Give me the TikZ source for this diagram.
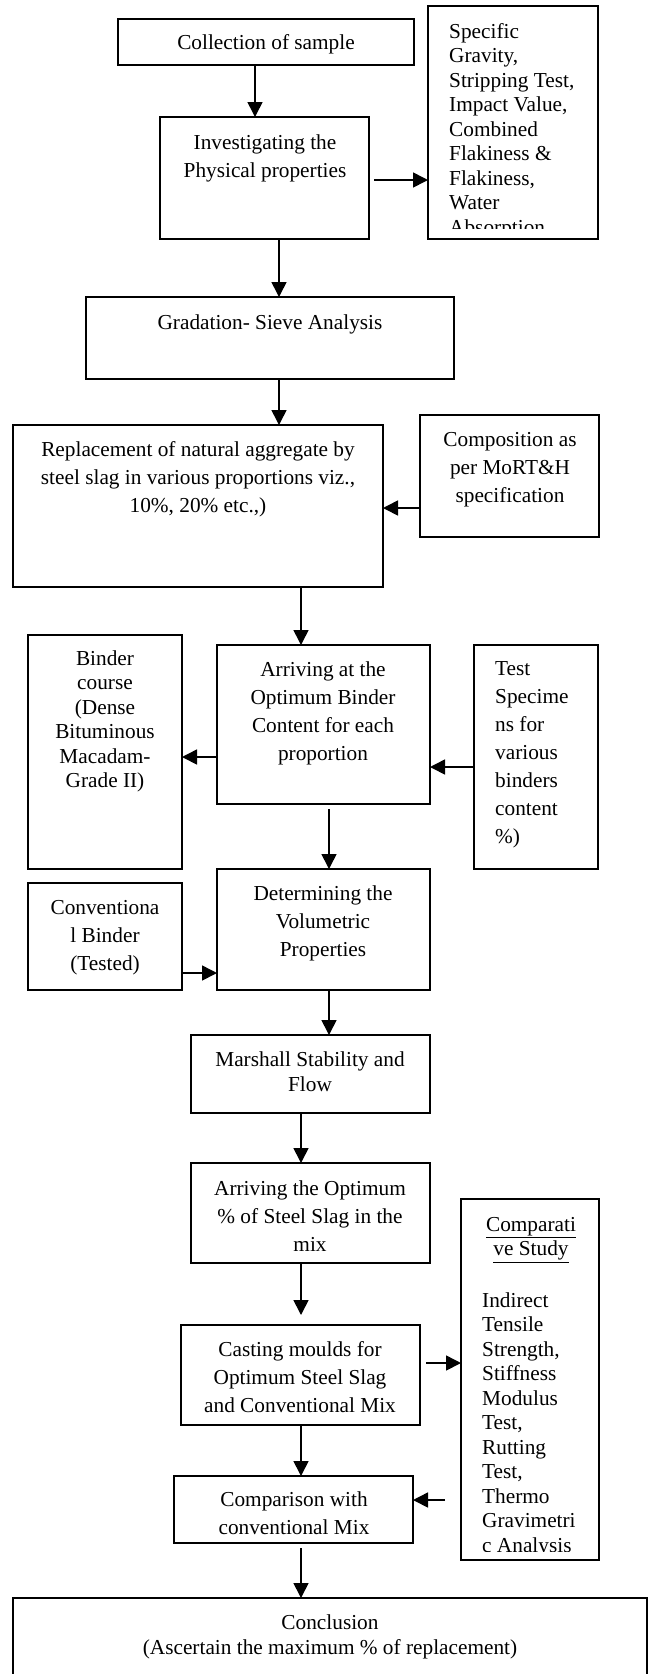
\documentclass[tikz,border=0pt]{standalone}
\usepackage{fontspec}
\setmainfont{Liberation Serif}
\usetikzlibrary{arrows.meta}
\newcommand\fsA{\fontsize{21.3}{28}\selectfont}
\newcommand\fsB{\fontsize{21.3}{24.5}\selectfont}
\newcommand\fsD{\fontsize{21.3}{25}\selectfont}
\begin{document}
\begin{tikzpicture}[x=1pt,y=-1pt,
  box/.style={draw, line width=1.6pt, rectangle, inner sep=0pt, outer sep=0pt, anchor=north west},
  tc/.style={inner sep=0pt, anchor=north, align=center},
  tl/.style={inner sep=0pt, anchor=north west, align=left},
  arr/.style={line width=1.6pt, -{Triangle[length=15pt,width=15pt]}}]
\useasboundingbox (0,0) rectangle (651,1674);
% boxes
\node[box, minimum width=296pt, minimum height=46pt]  (coll)  at (118,19) {};
\node[box, minimum width=170pt, minimum height=233pt] (spec)  at (428,6) {};
\node[box, minimum width=209pt, minimum height=122pt] (inv)   at (160,117) {};
\node[box, minimum width=368pt, minimum height=82pt]  (grad)  at (86,297) {};
\node[box, minimum width=370pt, minimum height=162pt] (repl)  at (13,425) {};
\node[box, minimum width=179pt, minimum height=122pt] (comp)  at (420,415) {};
\node[box, minimum width=154pt, minimum height=234pt] (bind)  at (28,635) {};
\node[box, minimum width=213pt, minimum height=159pt] (arrv)  at (217,645) {};
\node[box, minimum width=124pt, minimum height=224pt] (test)  at (474,645) {};
\node[box, minimum width=213pt, minimum height=121pt] (det)   at (217,869) {};
\node[box, minimum width=154pt, minimum height=107pt] (conv)  at (28,883) {};
\node[box, minimum width=239pt, minimum height=78pt]  (mars)  at (191,1035) {};
\node[box, minimum width=239pt, minimum height=100pt] (opt)   at (191,1163) {};
\node[box, minimum width=138pt, minimum height=361pt] (cstd)  at (461,1199) {};
\node[box, minimum width=239pt, minimum height=100pt] (cast)  at (181,1325) {};
\node[box, minimum width=239pt, minimum height=67pt]  (cmpr)  at (174,1476) {};
\node[box, draw=none, minimum width=634pt, minimum height=80pt] (concl) at (13,1598) {};
\draw[line width=1.6pt] (concl.south west) -- (concl.north west) -- (concl.north east) -- (concl.south east);
% texts
\node[tc, font=\fsA] (tcoll) at (266,29.4) {\strut Collection of sample};
\node[tc, font=\fsA] (tinv) at (265,129.4) {\strut Investigating the\\Physical properties};
\begin{scope}
\clip (428,6) rectangle (598,228);
\node[tl, font=\fsB] (tspec) at (449,20.85) {\strut Specific\\Gravity,\\Stripping Test,\\Impact Value,\\Combined\\Flakiness \&\\Flakiness,\\Water\\Absorption};
\end{scope}
\node[tc, font=\fsA] (tgrad) at (270,309.4) {\strut Gradation- Sieve Analysis};
\node[tc, font=\fsA] (trepl) at (198,436.4) {\strut Replacement of natural aggregate by\\steel slag in various proportions viz.,\\10\%, 20\% etc.,)};
\node[tc, font=\fsA] (tcomp) at (510,426.4) {\strut Composition as\\per MoRT\&H\\specification};
\node[tc, font=\fsB] (tbind) at (105,647.85) {\strut Binder\\course\\(Dense\\Bituminous\\Macadam-\\Grade II)};
\node[tc, font=\fsA] (tarrv) at (323,656.4) {\strut Arriving at the\\Optimum Binder\\Content for each\\proportion};
\node[tl, font=\fsA] (ttest) at (495,655.4) {\strut Test\\Specime\\ns for\\various\\binders\\content\\\%)};
\node[tc, font=\fsA] (tdet) at (323,880.4) {\strut Determining the\\Volumetric\\Properties};
\node[tc, font=\fsA] (tconv) at (105,894.4) {\strut Conventiona\\l Binder\\(Tested)};
\node[tc, font=\fsD] (tmars) at (310,1048.5) {\strut Marshall Stability and\\Flow};
\node[tc, font=\fsA] (topt) at (310,1175.4) {\strut Arriving the Optimum\\\% of Steel Slag in the\\mix};
\node[tc, font=\fsB] (tcstdh) at (531,1213.85) {\strut\underline{Comparati}\\\underline{ve Study}};
\begin{scope}
\clip (461,1199) rectangle (599,1551);
\node[tl, font=\fsB] (tcstd) at (482,1289.85) {\strut Indirect\\Tensile\\Strength,\\Stiffness\\Modulus\\Test,\\Rutting\\Test,\\Thermo\\Gravimetri\\c Analysis};
\end{scope}
\node[tc, font=\fsA] (tcast) at (300,1336.4) {\strut Casting moulds for\\Optimum Steel Slag\\and Conventional Mix};
\node[tc, font=\fsA] (tcmpr) at (294,1486.4) {\strut Comparison with\\conventional Mix};
\node[tc, font=\fsD] (tconcl) at (330,1611.5) {\strut Conclusion\\(Ascertain the maximum \% of replacement)};
% guide coordinates
\coordinate (x1) at (255,0);
\coordinate (y2) at (0,180);
\coordinate (x3) at (279,0);
\coordinate (y5) at (0,508);
\coordinate (x6) at (301,0);
\coordinate (y7) at (0,757);
\coordinate (y8) at (0,767);
\coordinate (x9) at (329,0);
\coordinate (y10) at (0,973);
\coordinate (x12) at (301,0);
\coordinate (y14) at (0,1363);
\coordinate (y16) at (0,1500);
% arrows
\draw[arr] (coll.south -| x1) -- (inv.north -| x1);
\draw[arr] ([xshift=5pt]inv.east |- y2) -- (spec.west |- y2);
\draw[arr] (inv.south -| x3) -- (grad.north -| x3);
\draw[arr] (grad.south -| x3) -- (repl.north -| x3);
\draw[arr] (comp.west |- y5) -- (repl.east |- y5);
\draw[arr] (repl.south -| x6) -- (arrv.north -| x6);
\draw[arr] (arrv.west |- y7) -- (bind.east |- y7);
\draw[arr] (test.west |- y8) -- (arrv.east |- y8);
\draw[arr] ([yshift=-5pt]arrv.south -| x9) -- (det.north -| x9);
\draw[arr] (conv.east |- y10) -- (det.west |- y10);
\draw[arr] (det.south -| x9) -- (mars.north -| x9);
\draw[arr] (mars.south -| x12) -- (opt.north -| x12);
\draw[arr] (opt.south -| x12) -- ([yshift=10pt]cast.north -| x12);
\draw[arr] ([xshift=6pt]cast.east |- y14) -- (cstd.west |- y14);
\draw[arr] (cast.south -| x12) -- (cmpr.north -| x12);
\draw[arr] ([xshift=-16pt]cstd.west |- y16) -- (cmpr.east |- y16);
\draw[arr] ([yshift=-5pt]cmpr.south -| x12) -- (concl.north -| x12);
\end{tikzpicture}
\end{document}
